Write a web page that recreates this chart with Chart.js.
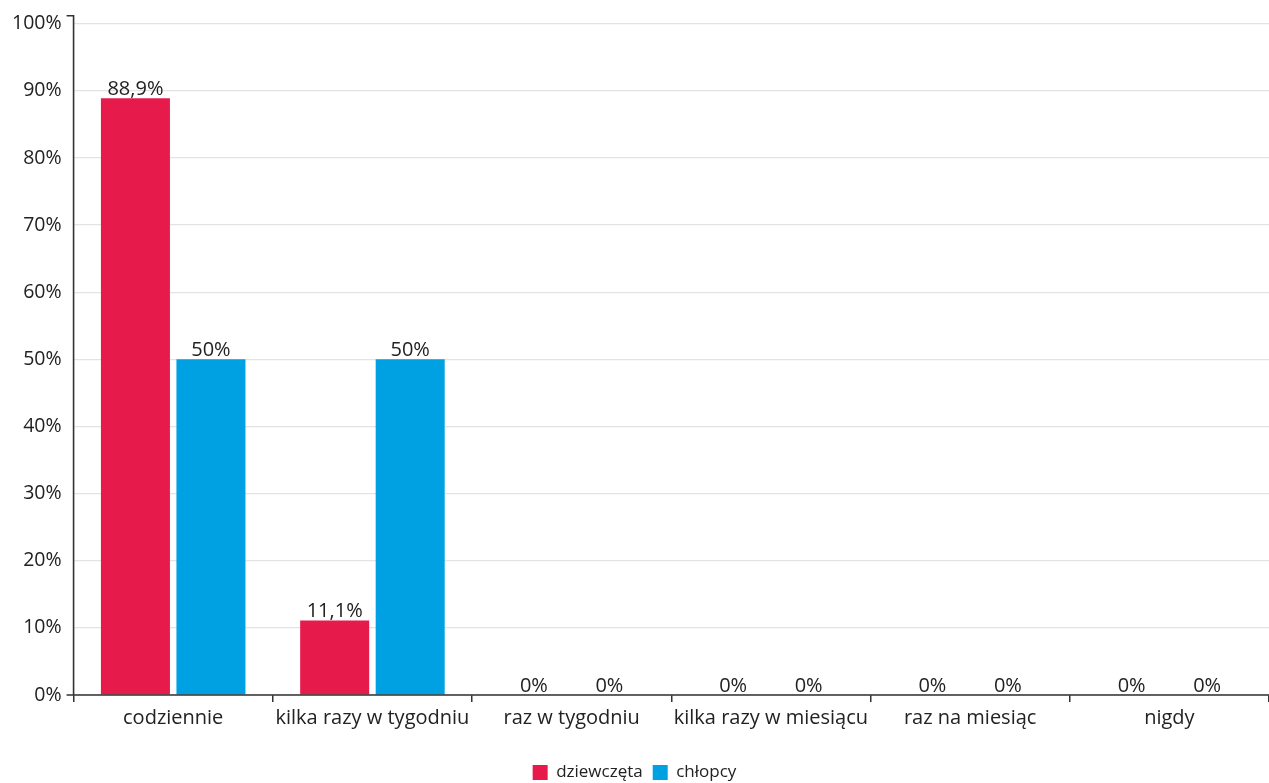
<!DOCTYPE html>
<html>
<head>
<meta charset="utf-8">
<script src="https://cdn.jsdelivr.net/npm/chart.js@4/dist/chart.umd.min.js"></script>
<style>
  html, body { margin: 0; padding: 0; background: #fff; }
  #wrap { width: 1269px; height: 783px; }
</style>
</head>
<body>
<div id="wrap"><canvas id="chart"></canvas></div>
<script>
// dane z wykresu
const categories = ['codziennie', 'kilka razy w tygodniu', 'raz w tygodniu', 'kilka razy w miesiącu', 'raz na miesiąc', 'nigdy'];
const girls = [88.9, 11.1, 0, 0, 0, 0];
const boys = [50, 50, 0, 0, 0, 0];
const yTicks = [0, 10, 20, 30, 40, 50, 60, 70, 80, 90, 100];

const textColor = '#222';
const fontFamily = '"Open Sans", "Noto Sans", sans-serif';

const fmt = v => String(v).replace('.', ',') + '%';

// etykiety wartości nad słupkami
const valueLabels = {
  id: 'valueLabels',
  afterDatasetsDraw(chart) {
    const ctx = chart.ctx;
    ctx.save();
    ctx.font = '20px ' + fontFamily;
    ctx.fillStyle = textColor;
    ctx.textAlign = 'center';
    ctx.textBaseline = 'bottom';
    chart.data.datasets.forEach((ds, i) => {
      chart.getDatasetMeta(i).data.forEach((bar, j) => {
        ctx.fillText(fmt(ds.data[j]), bar.x, bar.y + 1);
      });
    });
    ctx.restore();
  }
};

// osie z małymi "wąsami" jak w oryginale
const axisLines = {
  id: 'axisLines',
  afterLayout(chart) {
    // legenda trochę niżej, bliżej dolnej krawędzi
    if (chart.legend) {
      chart.legend.top += 8;
      chart.legend.bottom += 8;
    }
  },
  afterDatasetsDraw(chart) {
    const { ctx, chartArea } = chart;
    const { left, right, top, bottom } = chartArea;
    ctx.save();
    ctx.strokeStyle = '#333';
    ctx.lineWidth = 1.6;
    ctx.beginPath();
    ctx.moveTo(left - 7, top - 8);
    ctx.lineTo(left, top - 8);
    ctx.lineTo(left, bottom);
    ctx.moveTo(left - 7, bottom);
    ctx.lineTo(right, bottom);
    ctx.stroke();
    ctx.restore();
  }
};

document.addEventListener('DOMContentLoaded', () => {
  const ctx = document.getElementById('chart');
  new Chart(ctx, {
    type: 'bar',
    data: {
      labels: categories,
      datasets: [
        { label: 'dziewczęta', data: girls, backgroundColor: '#E61B4C' },
        { label: 'chłopcy', data: boys, backgroundColor: '#00A1E2' }
      ]
    },
    options: {
      responsive: true,
      maintainAspectRatio: false,
      animation: false,
      categoryPercentage: 0.758,
      barPercentage: 0.914,
      layout: { padding: { top: 14, right: 0, left: 0, bottom: 0 } },
      plugins: {
        legend: {
          position: 'bottom',
          labels: {
            boxWidth: 15,
            boxHeight: 15,
            padding: 10,
            color: textColor,
            font: { family: fontFamily, size: 17 }
          }
        },
        tooltip: { enabled: false }
      },
      scales: {
        x: {
          border: { display: false },
          afterFit: axis => { axis.height += 12; },
          grid: {
            offset: true,
            drawOnChartArea: false,
            drawTicks: true,
            tickLength: 7,
            color: '#333',
            lineWidth: 1.5
          },
          ticks: {
            color: textColor,
            padding: 4,
            maxRotation: 0,
            font: { family: fontFamily, size: 20 }
          }
        },
        y: {
          min: 0,
          max: 100,
          afterBuildTicks: axis => { axis.ticks = yTicks.map(v => ({ value: v })); },
          border: { display: false },
          grid: { color: '#e3e3e3', lineWidth: 1.2, drawTicks: false },
          ticks: {
            color: textColor,
            padding: 12,
            font: { family: fontFamily, size: 19.5 },
            callback: v => v + '%'
          }
        }
      }
    },
    plugins: [valueLabels, axisLines]
  });
});
</script>
</body>
</html>
